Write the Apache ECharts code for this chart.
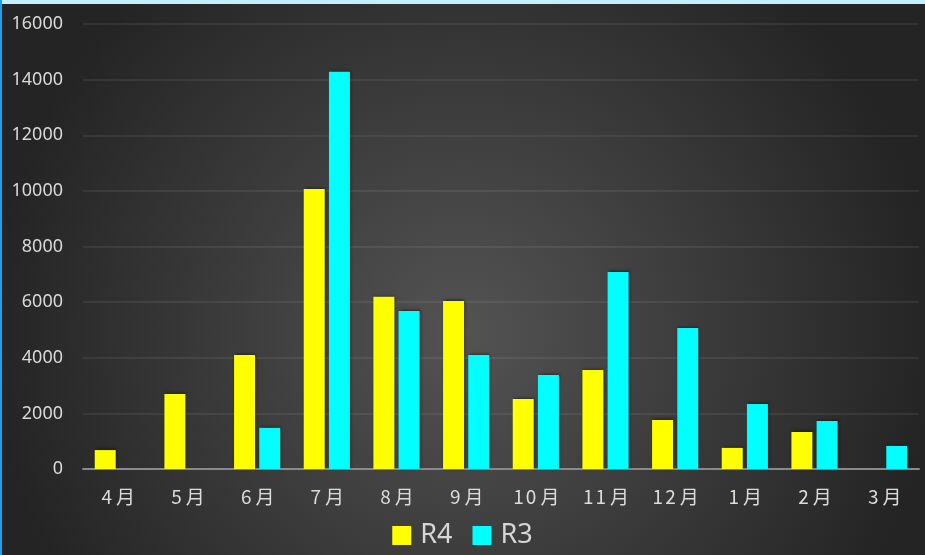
<!DOCTYPE html>
<html><head><meta charset="utf-8">
<script src="https://cdn.jsdelivr.net/npm/echarts@6/dist/echarts.min.js"></script>
<style>
html,body{margin:0;padding:0;background:#2a2a2a;}
#wrap{position:absolute;left:0;top:0;width:925px;height:555px;overflow:hidden;}
#c{position:absolute;left:0;top:0;width:925px;height:555px;}
#topb{position:absolute;left:0;top:0;width:925px;height:4px;background:#c4eeff;}
#leftb{position:absolute;left:0;top:0;width:2px;height:555px;background:#1e9fea;}
</style></head>
<body><div id="wrap"><div id="c"></div><div id="topb"></div><div id="leftb"></div></div>
<script>
const categories = ['4月','5月','6月','7月','8月','9月','10月','11月','12月','1月','2月','3月'];
const seriesNames = ['R4','R3'];
const r4Values = [680, 2700, 4100, 10070, 6190, 6040, 2520, 3560, 1760, 760, 1330, null];
const r3Values = [null, null, 1480, 14280, 5680, 4100, 3380, 7080, 5070, 2340, 1730, 830];
const yTicks = [0, 2000, 4000, 6000, 8000, 10000, 12000, 14000, 16000];

const chart = echarts.init(document.getElementById('c'), null, {renderer:'canvas'});
const barStyle = c => ({color:c, shadowBlur:3, shadowColor:'rgba(0,0,0,0.55)', shadowOffsetX:1, shadowOffsetY:-1});
const lblFont = {color:'#dcdcdc', fontSize:19, fontFamily:'Noto Sans CJK JP'};
chart.setOption({
  animation:false,
  backgroundColor:{type:'radial', x:0.5, y:0.6, r:0.85, colorStops:[{offset:0,color:'#535353'},{offset:1,color:'#242424'}]},
  grid:{left:83, right:6, top:24, bottom:86},
  legend:{bottom:1, left:'center', itemWidth:19, itemHeight:19, itemGap:20, icon:'rect',
    textStyle:{color:'#d6d6d6', fontSize:27, fontFamily:'Noto Sans', padding:[0,0,0,4]}, data:seriesNames},
  xAxis:{type:'category', data:categories,
    axisLine:{lineStyle:{color:'#8a8a8a', width:2}}, axisTick:{show:false},
    axisLabel:{margin:18, interval:0, hideOverlap:false, formatter:v => {
        const num = v.replace('月','');
        return num.split('').map(d => '{n|' + d + '}').join('') + '{m|月}';
      },
      rich:{n:Object.assign({padding:[0,1,0,1]}, lblFont), m:Object.assign({padding:[0,0,0,3]}, lblFont)}}},
  yAxis:{type:'value', min:yTicks[0], max:yTicks[yTicks.length-1], interval:2000,
    axisLine:{show:false}, axisTick:{show:false},
    splitLine:{lineStyle:{color:'rgba(255,255,255,0.07)', width:2}},
    axisLabel:{color:'#d9d9d9', fontSize:18, margin:20, fontFamily:'Noto Sans', formatter:v => String(v)}},
  series:[
    {name:seriesNames[0], type:'bar', data:r4Values, barWidth:21, barGap:'20%', itemStyle:barStyle('#ffff00')},
    {name:seriesNames[1], type:'bar', data:r3Values, barWidth:21, barGap:'20%', itemStyle:barStyle('#00ffff')}
  ]
});
</script></body></html>
